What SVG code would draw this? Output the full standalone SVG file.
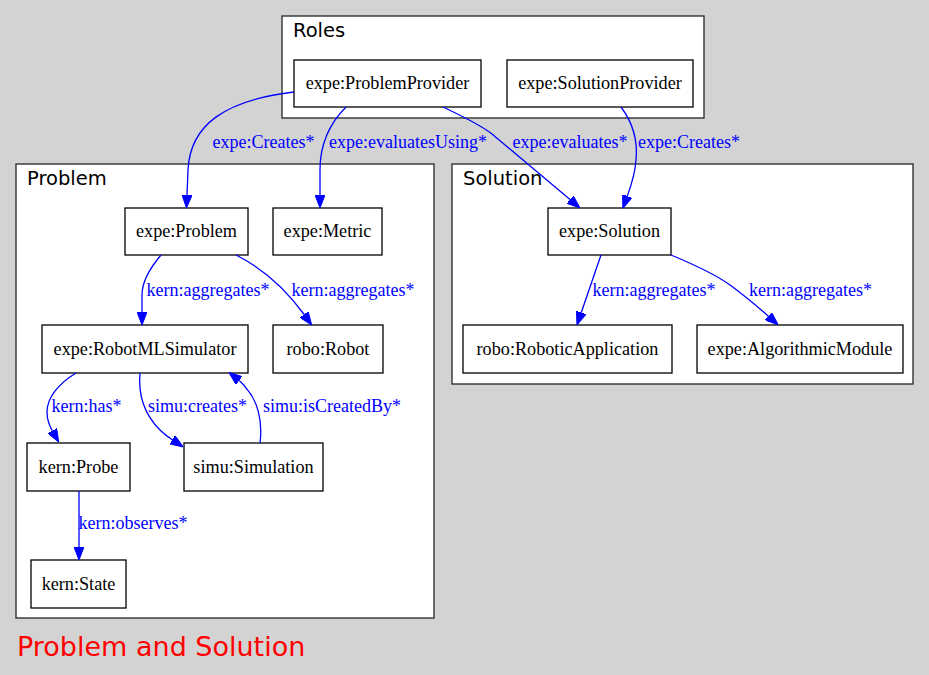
<svg xmlns="http://www.w3.org/2000/svg" width="929" height="675" viewBox="0 0 929 675">
<defs>
<marker id="arr" markerUnits="userSpaceOnUse" markerWidth="13" markerHeight="10" viewBox="0 0 13 10" refX="0" refY="5" orient="auto">
<path d="M0,0 L13,5 L0,10 z" fill="#0000ff" stroke="#0000ff" stroke-width="1"/>
</marker>
</defs>
<style>
.cluster{fill:#ffffff;stroke:#333333;stroke-width:1.4}
.clabel{font-family:"DejaVu Sans",sans-serif;font-size:19.5px;fill:#000000}
.node rect{fill:#ffffff;stroke:#000000;stroke-width:1.3}
.node text{font-family:"Liberation Serif",serif;font-size:18.2px;fill:#000000;text-anchor:middle}
.edge{fill:none;stroke:#0000ff;stroke-width:1.3;marker-end:url(#arr)}
.elabel{font-family:"Liberation Serif",serif;font-size:18px;fill:#0000ff}
</style>
<rect width="929" height="675" fill="#d3d3d3"/>
<g id="cluster_roles">
<rect class="cluster" x="282" y="16" width="422" height="102"/>
<text class="clabel" x="293" y="37">Roles</text>
</g>
<g id="cluster_problem">
<rect class="cluster" x="16" y="164" width="418" height="454"/>
<text class="clabel" x="27" y="185">Problem</text>
</g>
<g id="cluster_solution">
<rect class="cluster" x="452" y="164" width="461" height="220"/>
<text class="clabel" x="463" y="185">Solution</text>
</g>
<g id="ProblemProvider" class="node"><rect x="294" y="60" width="187" height="47"/><text x="387.5" y="89">expe:ProblemProvider</text></g>
<g id="SolutionProvider" class="node"><rect x="507" y="60" width="186" height="47"/><text x="600" y="89">expe:SolutionProvider</text></g>
<g id="Problem" class="node"><rect x="125" y="208" width="123" height="47"/><text x="186.5" y="237">expe:Problem</text></g>
<g id="Metric" class="node"><rect x="273" y="208" width="109" height="47"/><text x="327.5" y="237">expe:Metric</text></g>
<g id="RobotMLSimulator" class="node"><rect x="42" y="325" width="206" height="48"/><text x="145" y="354.5">expe:RobotMLSimulator</text></g>
<g id="Robot" class="node"><rect x="273" y="325" width="110" height="48"/><text x="328" y="354.5">robo:Robot</text></g>
<g id="Probe" class="node"><rect x="27" y="443" width="103" height="48"/><text x="78.5" y="472.5">kern:Probe</text></g>
<g id="Simulation" class="node"><rect x="184" y="443" width="139" height="48"/><text x="253.5" y="472.5">simu:Simulation</text></g>
<g id="State" class="node"><rect x="31" y="560" width="95" height="48"/><text x="78.5" y="589.5">kern:State</text></g>
<g id="Solution" class="node"><rect x="548" y="208" width="123" height="47"/><text x="609.5" y="237">expe:Solution</text></g>
<g id="RoboticApplication" class="node"><rect x="463" y="325" width="209" height="48"/><text x="567.5" y="354.5">robo:RoboticApplication</text></g>
<g id="AlgorithmicModule" class="node"><rect x="697" y="325" width="206" height="48"/><text x="800" y="354.5">expe:AlgorithmicModule</text></g>
<g id="connectors">
<path class="edge" d="M294,92 C225,100 190,125 188,170 L187,195"/>
<path class="edge" d="M346,107 C328,125 320,145 320,170 L320,195"/>
<path class="edge" d="M443,107 C462,116 482,126 492,134 L570,199.6"/>
<path class="edge" d="M621,107 C633,123 638,140 636,160 C635,175 631,186 627.3,196.1"/>
<path class="edge" d="M601,255 L581.2,312.7"/>
<path class="edge" d="M671,255 C695,265 715,274 730,285 C745,296 758,307 768.4,316.2"/>
<path class="edge" d="M161,255 C150,268 142,282 142,295 L142,312"/>
<path class="edge" d="M236,255 C262,268 285,288 304.1,314.5"/>
<path class="edge" d="M76,373 C58,384 47,398 47,412 C47,420 49,425 52.3,430.8"/>
<path class="edge" d="M140,373 C138,395 145,415 160,430 C164,434 168,437 172.3,439.8"/>
<path class="edge" d="M260,443 C263,420 257,400 246,388 C244,385 241,382 239.1,380.5"/>
<path class="edge" d="M79,491 L79,547"/>
<text class="elabel" x="212.5" y="148">expe:Creates*</text>
<text class="elabel" x="329" y="148">expe:evaluatesUsing*</text>
<text class="elabel" x="512.5" y="148">expe:evaluates*</text>
<text class="elabel" x="638" y="148">expe:Creates*</text>
<text class="elabel" x="146.5" y="296">kern:aggregates*</text>
<text class="elabel" x="291.5" y="296">kern:aggregates*</text>
<text class="elabel" x="592.5" y="296">kern:aggregates*</text>
<text class="elabel" x="749" y="296">kern:aggregates*</text>
<text class="elabel" x="51.5" y="412">kern:has*</text>
<text class="elabel" x="148" y="412">simu:creates*</text>
<text class="elabel" x="263" y="412">simu:isCreatedBy*</text>
<text class="elabel" x="78.5" y="529">kern:observes*</text>
</g>
<text x="17" y="656" font-family="DejaVu Sans, sans-serif" font-size="27" fill="#ff0000">Problem and Solution</text>
</svg>
